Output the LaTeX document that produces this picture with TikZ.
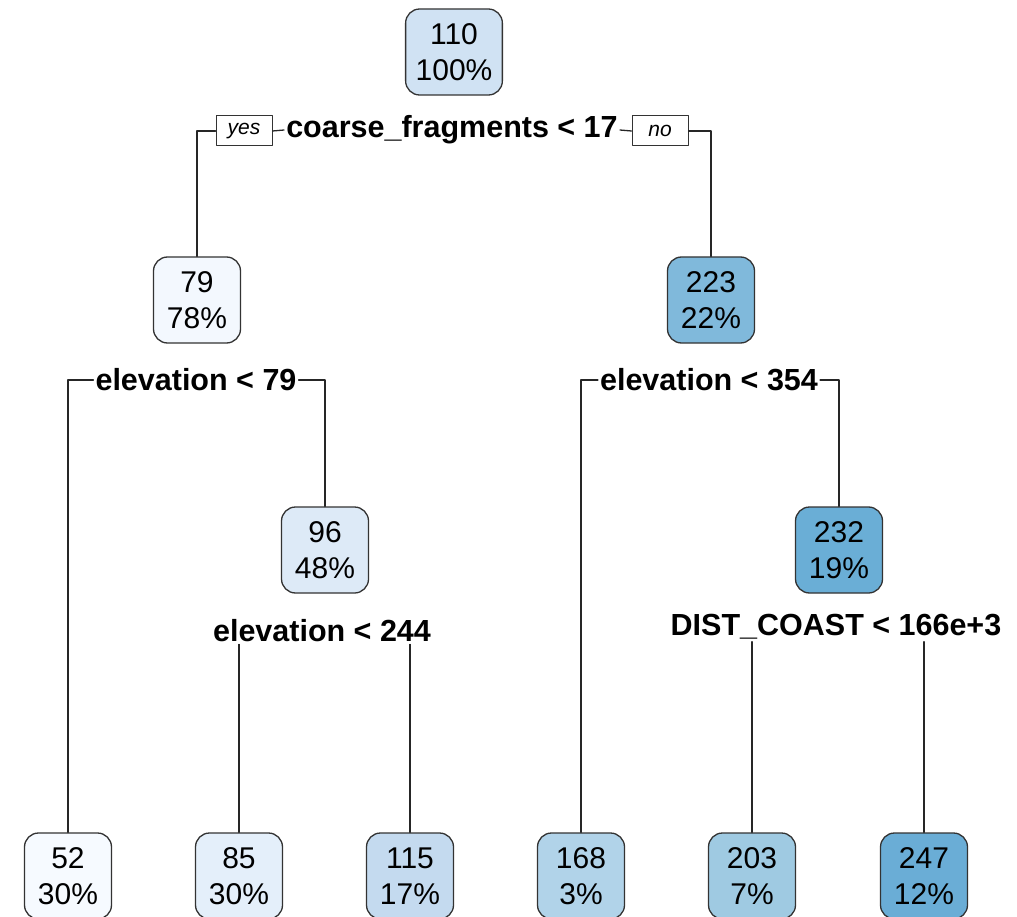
\documentclass[tikz,border=0pt]{standalone}
\usepackage{fontspec}
\setmainfont{Liberation Sans}
\definecolor{cRoot}{HTML}{D0E2F3}
\definecolor{cA}{HTML}{F3F8FE}
\definecolor{cB}{HTML}{80B9DB}
\definecolor{cC}{HTML}{DDEAF7}
\definecolor{cD}{HTML}{6AAED6}
\definecolor{cL1}{HTML}{F6FAFF}
\definecolor{cL2}{HTML}{E4EFFA}
\definecolor{cL3}{HTML}{C4DAEF}
\definecolor{cL4}{HTML}{B1D3E9}
\definecolor{cL5}{HTML}{9FCAE2}
\definecolor{cL6}{HTML}{6AADD6}
\begin{document}
\begin{tikzpicture}
	[
		x=1pt,
		y=-1pt,
		line cap=round,
		line join=round,
		tnode/.style={draw=black!80, line width=1.3pt, rounded corners=14pt,
			minimum width=87pt, minimum height=86pt, inner xsep=10pt, inner ysep=0pt,
			align=center, font=\fontsize{30}{36}\selectfont},
		split/.style={font=\bfseries\fontsize{30.5}{34}\selectfont, inner sep=2pt},
		yesno/.style={draw=black!80, line width=1pt, font=\itshape\fontsize{21}{24}\selectfont,
			minimum width=56pt, minimum height=30pt, inner sep=0pt},
		edge/.style={line width=1.3pt, color=black!85}
	]
		\useasboundingbox (0,0) rectangle (1017,917);
		% inner nodes
		\node [tnode, fill=cRoot] (root) at (454,52) {110\\100\%};
		\node [tnode, fill=cA] (n79) at (197,300) {79\\78\%};
		\node [tnode, fill=cB] (n223) at (711,300) {223\\22\%};
		\node [tnode, fill=cC] (n96) at (325,550) {96\\48\%};
		\node [tnode, fill=cD] (n232) at (839,550) {232\\19\%};
		% leaves
		\node [tnode, fill=cL1] (l52) at (68,876) {52\\30\%};
		\node [tnode, fill=cL2] (l85) at (239,876) {85\\30\%};
		\node [tnode, fill=cL3] (l115) at (410,876) {115\\17\%};
		\node [tnode, fill=cL4] (l168) at (581,876) {168\\3\%};
		\node [tnode, fill=cL5] (l203) at (752,876) {203\\7\%};
		\node [tnode, fill=cL6] (l247) at (924,876) {247\\12\%};
		% split labels
		\node [split] (sCoarse) at (452,130) {coarse\_fragments < 17};
		\node [yesno] (yes) at (244,131) {yes};
		\node [yesno] (no) at (660,131) {no};
		\node [split] (sElevL) at (196,380) {elevation < 79};
		\node [split] (sElevR) at (709,380) {elevation < 354};
		\node [split] (sElevM) at (322,631) {elevation < 244};
		\node [split] (sDist) at (836,627) {DIST\_COAST < 166e+3};
		% connectors
		\draw [edge] (n79.north) |- (yes.west);
		\draw [edge] (yes.east) -- (sCoarse.west);
		\draw [edge] (sCoarse.east) -- (no.west);
		\draw [edge] (no.east) -| (n223.north);
		\draw [edge] (l52.north) |- (sElevL.west);
		\draw [edge] (sElevL.east) -| (n96.north);
		\draw [edge] (l168.north) |- (sElevR.west);
		\draw [edge] (sElevR.east) -| (n232.north);
		\draw [edge] (l85.north) -- (l85.north |- sElevM.south);
		\draw [edge] (l115.north) -- (l115.north |- sElevM.south);
		\draw [edge] (l203.north) -- (l203.north |- sDist.south);
		\draw [edge] (l247.north) -- (l247.north |- sDist.south);
	\end{tikzpicture}
\end{document}
